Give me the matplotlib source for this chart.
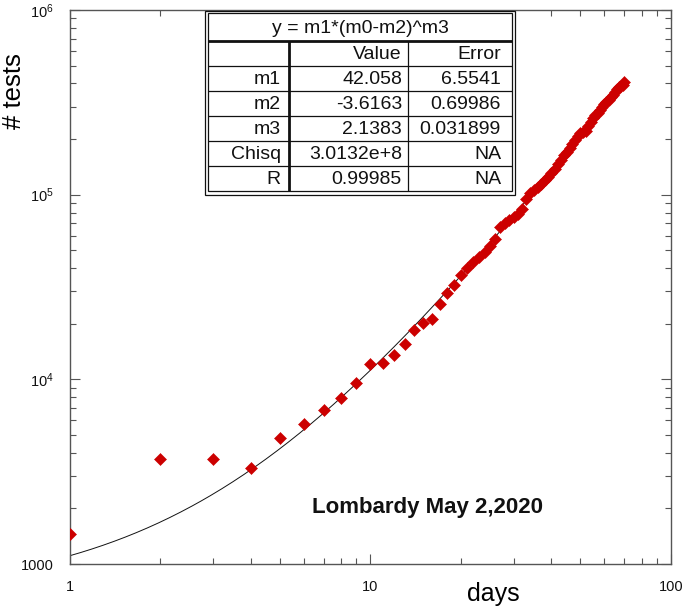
import numpy as np
import matplotlib
matplotlib.use("Agg")
import matplotlib.pyplot as plt
from matplotlib.patches import Rectangle
from matplotlib.ticker import FixedLocator, FuncFormatter, LogLocator, NullFormatter

plt.rcParams['font.family'] = ['Liberation Sans', 'DejaVu Sans']
plt.rcParams['mathtext.default'] = 'regular'

# ---------------- data ----------------
days = list(range(1, 71))
tests = [1460, 3700, 3700, 3300, 4800, 5700, 6850, 7900, 9500, 12100,
         12300, 13500, 15600, 18500, 20100, 21300, 25500, 29300, 32400, 36800,
         40000, 43300, 46000, 49000, 52500, 57200, 67000, 70600, 73000, 76000,
         79000, 84000, 94500, 101800, 106000, 110000, 114000, 119500, 125000, 130500,
         138000, 146000, 155000, 163000, 169500, 178000, 187000, 197000, 207000, 214500,
         218000, 221000, 234000, 249000, 259000, 269000, 275500, 286000, 297000, 308000,
         316000, 324000, 336500, 345000, 358000, 372000, 381000, 386000, 391000, 406000]

# fit parameters (from the table)
m1, m2, m3 = 42.058, -3.6163, 2.1383

x_ticks = [1, 10, 100]
x_tick_labels = ['1', '10', '100']
y_ticks = [1000, 1e4, 1e5, 1e6]
y_tick_labels = ['1000', '$10^{4}$', '$10^{5}$', '$10^{6}$']

table_title = 'y = m1*(m0-m2)^m3'
table_header = ['', 'Value', 'Error']
row_names = ['m1', 'm2', 'm3', 'Chisq', 'R']
row_values = ['42.058', '-3.6163', '2.1383', '3.0132e+8', '0.99985']
row_errors = ['6.5541', '0.69986', '0.031899', 'NA', 'NA']

annotation = 'Lombardy May 2,2020'

# ---------------- figure ----------------
W, H = 685, 610
fig = plt.figure(figsize=(W / 100, H / 100), dpi=100)
L, R, T, B = 69.5, 671, 10, 564
ax = fig.add_axes([L / W, 1 - B / H, (R - L) / W, (B - T) / H])

ax.set_xscale('log')
ax.set_yscale('log')
ax.set_xlim(1, 100)
ax.set_ylim(1000, 1e6)

x_fit = np.logspace(0, np.log10(days[-1]), 300)
y_fit = m1 * (x_fit - m2) ** m3
ax.plot(x_fit, y_fit, color='#111111', lw=0.7, zorder=2)
ax.plot(days, tests, linestyle='none', marker='D', ms=5.8, color='#cc0000',
        mec='#cc0000', mew=0.4, zorder=3)

spine_c = '#555555'
for s in ax.spines.values():
    s.set_color(spine_c)
    s.set_linewidth(1.0)

ax.xaxis.set_major_locator(FixedLocator(x_ticks))
ax.xaxis.set_major_formatter(FuncFormatter(lambda v, p: x_tick_labels[x_ticks.index(v)] if v in x_ticks else ''))
ax.xaxis.set_minor_locator(LogLocator(base=10, subs=np.arange(2, 10)))
ax.xaxis.set_minor_formatter(NullFormatter())
ax.yaxis.set_major_locator(FixedLocator(y_ticks))
ax.yaxis.set_major_formatter(FuncFormatter(lambda v, p: y_tick_labels[y_ticks.index(v)] if v in y_ticks else ''))
ax.yaxis.set_minor_locator(LogLocator(base=10, subs=np.arange(2, 10)))
ax.yaxis.set_minor_formatter(NullFormatter())

ax.tick_params(which='both', direction='in', top=True, right=True, color=spine_c, width=0.8)
ax.tick_params(which='major', length=7.2, pad=11.5, labelsize=10.5, labelcolor='#111111')
ax.tick_params(which='minor', length=4.2)

ax.set_xlabel('days', fontsize=18)
ax.xaxis.label.set_va('baseline')
ax.xaxis.set_label_coords((493 - L) / (R - L), (B - 601) / (B - T))
ax.set_ylabel('# tests', fontsize=18.5)
ax.yaxis.label.set_va('center')
ax.yaxis.set_label_coords((14 - L) / (R - L), (B - 91.5) / (B - T))

ax.text((311.5 - L) / (R - L), (B - 513) / (B - T), annotation, transform=ax.transAxes,
        ha='left', va='baseline', fontsize=16, fontweight='bold', color='#111111')

# ---------------- table ----------------
tx0, tx1, ty0, ty1 = 205, 515, 10.5, 195
tax = fig.add_axes([tx0 / W, 1 - ty1 / H, (tx1 - tx0) / W, (ty1 - ty0) / H])
tax.set_xlim(tx0, tx1)
tax.set_ylim(ty1, ty0)
tax.axis('off')

tax.add_patch(Rectangle((tx0, ty0), tx1 - tx0, ty1 - ty0, facecolor='white',
                        edgecolor='#111111', lw=0.9, clip_on=False))
ix0, ix1, iy0, iy1 = 208.3, 511.7, 13.2, 191.0
tax.add_patch(Rectangle((ix0, iy0), ix1 - ix0, iy1 - iy0, facecolor='none',
                        edgecolor='#111111', lw=0.9, clip_on=False))

title_bottom = 40.5
row_edges = [title_bottom, 65.5, 90.5, 115.7, 140.7, 165.7, iy1]
col_thick = 288.7
col_thin = 407.5

tax.plot([ix0, ix1], [title_bottom, title_bottom], color='#111111', lw=2.0, solid_capstyle='butt')
for yy in row_edges[1:-1]:
    tax.plot([ix0, ix1], [yy, yy], color='#111111', lw=0.9, solid_capstyle='butt')
tax.plot([col_thick, col_thick], [title_bottom, iy1], color='#111111', lw=2.0, solid_capstyle='butt')
tax.plot([col_thin, col_thin], [title_bottom, iy1], color='#111111', lw=0.9, solid_capstyle='butt')

fs = 14
tax.text((ix0 + ix1) / 2, 33, table_title, ha='center', va='baseline', fontsize=fs, color='#111111')
col_right = [281, 402, 501]
rows = [table_header] + [[n, v, e] for n, v, e in zip(row_names, row_values, row_errors)]
for i, row in enumerate(rows):
    base = row_edges[i + 1] - 6.8
    for j, cell in enumerate(row):
        if cell:
            tax.text(col_right[j], base, cell, ha='right', va='baseline', fontsize=fs, color='#111111')

fig.savefig('out.png', dpi=100)
